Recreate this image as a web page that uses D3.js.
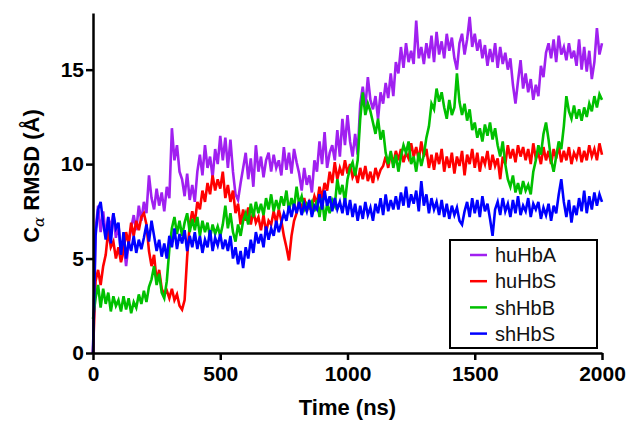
<!DOCTYPE html>
<html>
<head>
<meta charset="utf-8">
<script src="https://cdn.jsdelivr.net/npm/d3@7"></script>
<style>
  body { margin: 0; background: #fff; }
  text { font-family: "Liberation Sans", Arial, sans-serif; }
</style>
</head>
<body>
<div id="chart"></div>
<script>
const width = 629;
const height = 423;
const margin = {top: 13, right: 27, bottom: 70, left: 93};

// sampled every 10 ns, 0..2000
const timeNs = d3.range(0, 2001, 10);

const huHbA = [
  0, 6.5, 7.8, 6.4, 7.5, 6.2, 7.2, 6.6, 7.4, 6.1,
  6.8, 5.2, 6.0, 4.6, 5.8, 6.6, 7.3, 6.5, 7.8, 7.0,
  8.0, 7.4, 9.4, 8.2, 7.6, 8.7, 7.8, 8.5, 7.5, 8.8,
  8.2, 11.9, 10.2, 11.0, 9.6, 9.2, 8.3, 9.5, 8.1, 8.9,
  8.0, 9.6, 10.5, 9.4, 11.0, 9.8, 10.4, 9.3, 10.8, 10.0,
  11.5, 10.2, 11.4, 9.8, 11.3, 9.6, 8.4, 8.1, 9.0, 9.8,
  10.6, 9.2, 10.3, 8.8, 11.0, 9.6, 10.4, 9.3, 10.2, 10.6,
  9.6, 10.5, 9.8, 10.2, 9.4, 10.9, 9.7, 10.6, 9.5, 10.8,
  10.1, 9.5, 8.6, 9.8, 8.9, 9.4, 8.5, 10.2, 9.6, 11.2,
  10.0, 11.7, 9.8, 10.6, 11.0, 10.2, 11.8, 10.4, 12.4, 11.0,
  12.6, 11.2, 10.4, 11.6, 10.5, 13.2, 14.1, 13.0, 14.6, 13.4,
  12.9, 13.6, 12.4, 13.8, 13.2, 14.3, 13.5, 14.8, 13.6, 15.4,
  14.8, 16.2, 15.1, 16.4, 15.4, 16.0, 15.3, 17.6, 15.6, 16.2,
  15.3, 16.4, 15.6, 16.8, 15.4, 17.0, 15.8, 16.5, 15.6, 16.9,
  16.0, 16.7, 15.6, 15.0, 16.4, 16.9, 15.8, 16.6, 17.8, 16.2,
  16.9, 16.0, 16.6, 15.6, 16.3, 15.2, 16.1, 15.4, 16.4, 15.1,
  16.2, 15.3, 15.9, 15.0, 15.6, 14.2, 13.2, 14.4, 15.5, 14.0,
  14.8, 13.8, 14.5, 13.4, 14.2, 13.6, 15.2, 14.6, 15.9, 16.4,
  15.6, 16.6, 15.4, 16.8, 15.8, 16.2, 15.5, 16.4, 15.6, 16.0,
  15.2, 16.6, 15.0, 16.2, 14.9, 16.0, 14.5, 15.4, 17.2, 15.8,
  16.4
];

const huHbS = [
  0, 3.8, 4.4, 3.6, 4.6, 5.2, 6.5, 5.6, 5.9, 5.0,
  5.6, 4.8, 5.4, 6.4, 5.8, 6.9, 6.2, 7.0, 6.5, 7.2,
  7.4, 6.8, 5.4, 4.6, 5.2, 3.8, 4.4, 3.4, 3.1, 3.3,
  2.9, 3.4, 2.8, 3.1, 2.5, 2.3, 2.8, 5.1, 6.8, 7.5,
  6.9, 8.0, 7.6, 8.6, 8.0, 9.0, 8.4, 9.4, 8.6, 9.2,
  8.7, 9.6, 8.2, 8.9, 8.0, 8.6, 7.4, 7.9, 6.8, 7.6,
  7.0, 7.7, 6.8, 7.5, 6.9, 7.2, 6.5, 7.3, 6.4, 7.0,
  6.8, 7.5, 6.9, 7.6, 7.0, 6.2, 5.6, 4.9, 6.2, 7.0,
  7.4, 8.1, 7.6, 8.2, 7.5, 8.0, 7.7, 8.3, 7.9, 8.8,
  8.2, 9.0, 8.6, 9.6, 9.0, 10.1, 9.2, 9.8, 9.4, 10.2,
  9.5, 10.0, 9.3, 9.6, 9.0, 9.8, 9.2, 9.9, 9.1, 9.6,
  9.0, 9.8, 9.3, 9.7, 9.9, 10.4, 9.8, 10.6, 10.0, 10.7,
  10.2, 10.8, 10.1, 10.6, 10.3, 11.1, 10.4, 10.9, 10.2, 11.2,
  10.4, 10.8, 9.8, 10.5, 9.7, 10.6, 10.0, 10.8, 9.6, 10.4,
  9.8, 10.6, 9.5, 10.4, 9.9, 10.7, 9.4, 10.5, 10.0, 10.8,
  9.8, 10.6, 9.6, 10.4, 10.0, 10.7, 9.7, 10.5, 9.9, 10.3,
  9.2, 10.4, 10.0, 11.0, 10.3, 10.8, 10.1, 11.0, 10.4, 10.9,
  10.2, 10.8, 10.0, 11.1, 10.3, 10.6, 10.0, 10.9, 10.2, 10.7,
  10.0, 10.8, 10.3, 11.0, 10.1, 10.7, 10.2, 10.9, 10.0, 10.6,
  10.3, 10.9, 10.1, 10.7, 10.2, 11.0, 10.4, 10.8, 10.2, 11.1,
  10.5
];

const shHbB = [
  1.8, 2.9, 3.6, 2.4, 3.4, 2.6, 3.2, 2.2, 3.0, 2.5,
  2.8, 2.2, 3.0, 2.3, 2.9, 2.1, 2.7, 2.4, 3.1, 2.6,
  3.3, 2.7, 3.5, 3.9, 4.6, 3.6, 4.2, 3.2, 2.9, 3.8,
  5.5, 6.6, 7.2, 6.3, 7.0, 6.2, 6.9, 7.4, 6.4, 7.1,
  6.5, 7.2, 6.2, 7.0, 6.4, 6.9, 6.1, 6.8, 6.3, 6.7,
  6.2, 6.8, 7.8, 6.6, 7.4, 6.4, 5.9, 6.8, 6.2, 7.0,
  7.4, 6.8, 7.9, 7.2, 8.0, 7.4, 7.9, 7.3, 8.2, 7.6,
  8.4, 7.5, 8.1, 7.6, 8.3, 7.8, 8.6, 7.5, 8.2, 7.7,
  8.8, 7.9, 8.3, 7.6, 7.9, 7.7, 8.0, 7.5, 8.1, 7.2,
  8.2, 7.0, 7.9, 7.4, 8.1, 7.8, 9.2, 8.4, 8.9, 8.0,
  9.2, 9.8, 10.1, 9.4, 10.2, 12.4, 13.8, 12.6, 13.2, 12.8,
  12.2, 11.6, 12.4, 11.3, 11.8, 10.6, 10.0, 10.7, 9.8, 10.5,
  9.6, 10.4, 11.0, 10.6, 11.2, 10.0, 10.4, 9.6, 10.6, 9.9,
  10.5, 11.4, 12.0, 13.2, 12.9, 14.0, 13.3, 13.8, 13.0, 12.4,
  13.4, 12.6, 13.0, 14.8, 13.3, 12.6, 13.2, 12.3, 12.9, 11.8,
  12.2, 11.4, 11.9, 11.2, 12.1, 11.5, 12.2, 11.3, 11.9, 11.0,
  10.4, 11.2, 10.0, 9.2, 8.8, 9.4, 8.5, 9.0, 8.4, 9.1,
  8.6, 8.9, 8.4, 9.6, 10.2, 11.0, 10.5, 11.6, 12.2, 11.3,
  10.2, 9.6, 10.4, 11.2, 10.8, 12.0, 13.6, 12.8, 12.4, 13.1,
  12.4, 12.9, 12.3, 13.0, 12.5, 13.2, 12.8, 13.6, 13.0, 13.7,
  13.4
];

const shHbS = [
  0, 6.2, 7.6, 8.0, 6.9, 6.0, 7.2, 5.8, 7.4, 6.6,
  6.9, 5.2, 6.4, 5.0, 5.9, 5.4, 6.2, 5.3, 6.0, 5.5,
  6.1, 6.8, 5.9, 7.0, 6.2, 5.4, 6.0, 5.1, 5.8, 5.0,
  6.2, 5.6, 6.6, 5.5, 6.3, 5.8, 6.5, 5.4, 6.2, 5.6,
  6.4, 5.5, 6.2, 5.3, 6.0, 5.6, 6.5, 5.4, 6.1, 5.7,
  6.3, 5.5, 6.0, 5.4, 6.2, 5.0, 5.6, 4.7, 5.4, 4.5,
  5.6, 5.0, 6.0, 5.3, 6.4, 5.8, 6.3, 5.6, 6.7, 6.0,
  6.6, 6.2, 7.0, 6.4, 6.9, 7.4, 7.0, 7.8, 7.2, 7.9,
  7.4, 8.0, 7.3, 7.9, 7.5, 8.1, 7.2, 7.8, 7.6, 8.4,
  7.6, 8.6, 7.8, 8.3, 7.5, 8.2, 7.6, 8.0, 7.4, 8.2,
  7.3, 8.1, 7.2, 7.9, 7.0, 7.8, 7.1, 8.0, 7.3, 7.7,
  7.0, 7.9, 7.4, 8.2, 7.3, 8.4, 7.5, 8.1, 7.6, 8.3,
  7.6, 8.5, 7.8, 8.8, 7.7, 8.4, 7.9, 8.6, 7.5, 9.1,
  7.8, 8.4, 7.4, 8.2, 7.6, 8.0, 7.3, 8.1, 7.2, 7.9,
  7.1, 7.8, 7.3, 7.7, 7.0, 6.8, 7.5, 8.0, 7.2, 8.2,
  7.4, 8.1, 7.2, 8.3, 7.5, 7.9, 7.1, 6.2, 7.6, 8.0,
  7.3, 8.2, 7.5, 7.9, 7.2, 8.1, 7.4, 8.3, 7.3, 7.8,
  7.5, 8.2, 7.2, 7.9, 7.6, 8.0, 7.1, 7.7, 7.3, 7.9,
  7.0, 7.8, 7.4, 8.4, 9.2, 8.0, 7.2, 8.1, 6.9, 7.8,
  7.3, 8.2, 7.5, 8.6, 7.4, 8.3, 7.6, 8.5, 7.8, 8.4,
  8.0
];

const seriesNames = ["huHbA", "huHbS", "shHbB", "shHbS"];
const seriesValues = [huHbA, huHbS, shHbB, shHbS];
const seriesColors = ["#a020f0", "#ff0000", "#00c000", "#0000ff"];
const xTicks = [0, 500, 1000, 1500, 2000];
const yTicks = [0, 5, 10, 15];

const svg = d3.select("#chart")
    .append("svg")
        .attr("width", width)
        .attr("height", height);

const x = d3.scaleLinear()
    .domain([0, 2000])
    .range([margin.left, width - margin.right]);

const y = d3.scaleLinear()
    .domain([0, 18])
    .range([height - margin.bottom, margin.top]);

const line = d3.line()
    .x((d, i) => x(timeNs[i]))
    .y(d => y(d));

svg.append("g")
    .attr("fill", "none")
    .attr("stroke-width", 2.6)
    .attr("stroke-linejoin", "miter")
  .selectAll("path")
  .data(seriesValues)
  .enter().append("path")
    .attr("stroke", (d, i) => seriesColors[i])
    .attr("d", line);

// axes
const xAxis = svg.append("g")
    .attr("transform", "translate(0," + y(0) + ")")
    .call(d3.axisBottom(x).tickValues(xTicks).tickFormat(d3.format("d"))
        .tickSize(7).tickSizeOuter(0).tickPadding(6));

const yAxis = svg.append("g")
    .attr("transform", "translate(" + x(0) + ",0)")
    .call(d3.axisLeft(y).tickValues(yTicks).tickFormat(d3.format("d"))
        .tickSize(7).tickSizeOuter(0).tickPadding(2));

[xAxis, yAxis].forEach(ax => {
    ax.select(".domain").attr("stroke", "#000").attr("stroke-width", 2.5);
    ax.selectAll(".tick line").attr("stroke", "#000").attr("stroke-width", 2.5);
    ax.selectAll(".tick text")
        .attr("fill", "#000")
        .style("font-family", '"Liberation Sans", Arial, sans-serif')
        .style("font-size", "21px")
        .style("font-weight", "bold");
});

// axis titles
svg.append("text")
    .attr("x", (x(0) + x(2000)) / 2)
    .attr("y", 415)
    .attr("text-anchor", "middle")
    .style("font-size", "22px")
    .style("font-weight", "bold")
    .text("Time (ns)");

const yTitle = svg.append("text")
    .attr("transform", "translate(39,176) rotate(-90)")
    .attr("text-anchor", "middle")
    .style("font-size", "22px")
    .style("font-weight", "bold");
yTitle.append("tspan").text("C");
yTitle.append("tspan")
    .attr("dy", 5)
    .style("font-size", "15px")
    .style("font-weight", "normal")
    .style("font-style", "italic")
    .style("font-family", '"DejaVu Serif", serif')
    .text("\u03b1");
yTitle.append("tspan").attr("dy", -5).text(" RMSD (\u00c5)");

// legend
const legend = svg.append("g");
legend.append("rect")
    .attr("x", 450)
    .attr("y", 240)
    .attr("width", 147)
    .attr("height", 108)
    .attr("fill", "#fff")
    .attr("stroke", "#000")
    .attr("stroke-width", 2);

const item = legend.selectAll(".item")
    .data(seriesNames)
    .enter().append("g")
        .attr("class", "item")
        .attr("transform", (d, i) => "translate(0," + (255 + i * 26.2) + ")");

item.append("line")
    .attr("x1", 470)
    .attr("x2", 487)
    .attr("stroke", (d, i) => seriesColors[i])
    .attr("stroke-width", 2.5);

item.append("text")
    .attr("x", 495)
    .attr("dy", "0.36em")
    .style("font-size", "20px")
    .attr("fill", "#111")
    .text(d => d);
</script>
</body>
</html>
